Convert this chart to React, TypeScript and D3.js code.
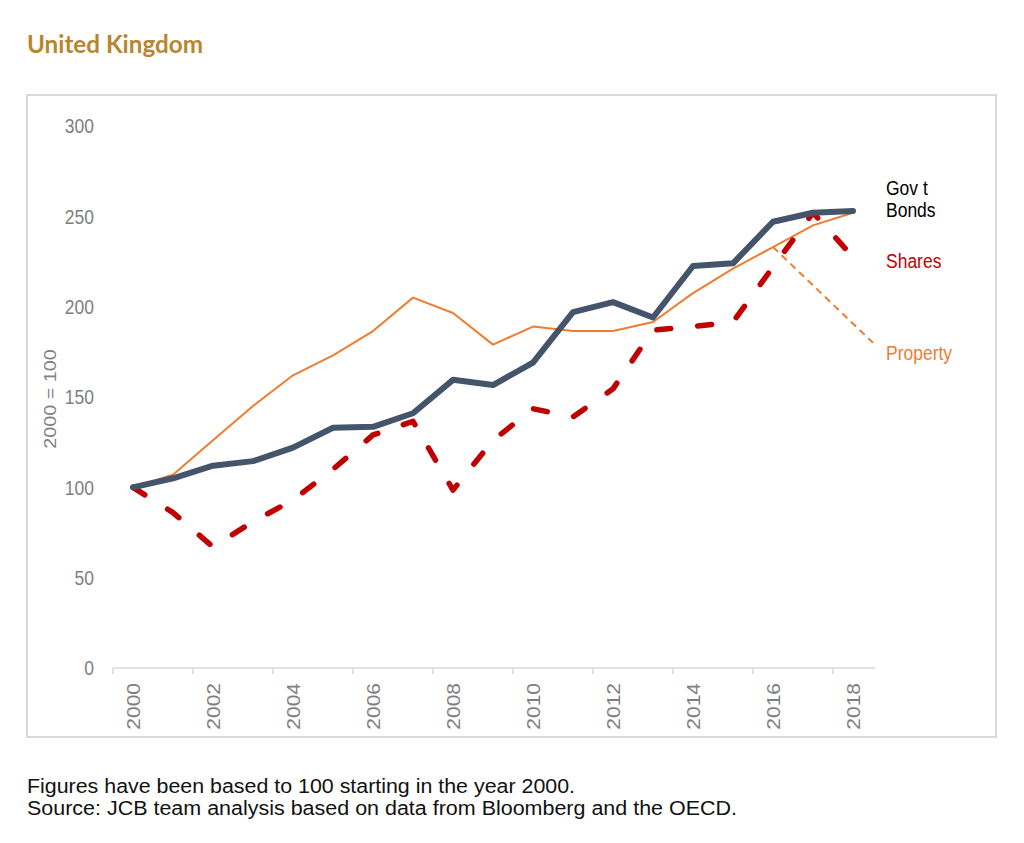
import * as d3 from "d3";

// UK asset classes, indexed to 2000 = 100
const years = d3.range(2000, 2019);
const govtBonds = [100, 105, 112, 114.5, 122, 133, 133.5, 141, 159.5, 156.6, 169, 197, 202.5, 194, 222.5, 224, 247, 252, 253];
const shares = [100, 86, 67, 81, 93, 110, 129, 136.5, 98.5, 126, 143.5, 139, 154.5, 187, 189, 191.5, 222, 252, 227.5];
const property = [100, 107, 126, 145, 162, 173, 186.5, 205, 196.5, 179, 189, 186.5, 186.5, 191.5, 207.5, 221, 233, 245, 252];
// dashed property projection from 2016 to the end of the axis
const propertyProjYears = [2016, 2018.5];
const propertyProj = [233, 180];

const yTicks = [0, 50, 100, 150, 200, 250, 300];
const xLabelYears = [2000, 2002, 2004, 2006, 2008, 2010, 2012, 2014, 2016, 2018];

const W = 1024;
const H = 843;
const FONT = "'Liberation Sans', Arial, sans-serif";
const GREY = "#7f7f7f";
const STRETCH = 1.2;

const x = d3.scaleLinear().domain([1999.5, 2018.5]).range([113, 873]);
const y = d3.scaleLinear().domain([0, 300]).range([668, 126]);

type Pt = [number, number];
const line = d3.line<Pt>().x(d => x(d[0])).y(d => y(d[1]));
const zip = (xs: number[], vs: number[]): Pt[] => xs.map((v, i) => [v, vs[i]]);

function Txt(props: {
  x: number; y: number; rot?: number; anchor?: string; size?: number;
  fill?: string; dy?: string; len?: number; family?: string; weight?: number;
  children: any;
}) {
  const rot = props.rot || 0;
  const sc = rot ? `scale(${STRETCH},1)` : `scale(1,${STRETCH})`;
  return (
    <text
      transform={`translate(${props.x},${props.y}) rotate(${rot}) ${sc}`}
      textAnchor={props.anchor || "start"}
      fontSize={props.size || 17.5}
      fontFamily={props.family || FONT}
      fontWeight={props.weight || 400}
      fill={props.fill || GREY}
      dy={props.dy}
      textLength={props.len}
      lengthAdjust={props.len ? "spacingAndGlyphs" : undefined}
    >
      {props.children}
    </text>
  );
}

export default function App() {
  const xTickPos = d3.range(1999.5, 2018, 2);
  return (
    <svg width={W} height={H} style={{ position: "absolute", left: 0, top: 0, background: "#fff" }}>
      <text x={27} y={53} fontFamily="Lato, 'Open Sans', sans-serif" fontWeight={700} fontSize={24}
        fill="#b8862f" textLength={176} lengthAdjust="spacingAndGlyphs">United Kingdom</text>

      <rect x={27} y={95} width={969} height={642} fill="none" stroke="#d9d9d9" strokeWidth={2} />

      {/* y axis */}
      {yTicks.map(t => (
        <Txt key={t} x={94} y={y(t)} anchor="end" dy="0.35em">{t}</Txt>
      ))}
      <Txt x={50} y={(y(0) + y(300)) / 2 + 2} rot={-90} anchor="middle" dy="0.35em" size={16.5}>2000 = 100</Txt>

      {/* x axis */}
      <line x1={x.range()[0]} x2={x.range()[1] + 2} y1={y(0)} y2={y(0)} stroke="#d9d9d9" strokeWidth={1.5} />
      {xTickPos.map(t => (
        <line key={t} x1={x(t)} x2={x(t)} y1={y(0)} y2={y(0) + 6} stroke="#d9d9d9" strokeWidth={1.5} />
      ))}
      {xLabelYears.map(yr => (
        <Txt key={yr} x={x(yr) + 1} y={683} rot={-90} anchor="end" dy="0.35em">{yr}</Txt>
      ))}

      {/* series */}
      <path d={line(zip(years, property)) || ""} fill="none" stroke="#ed7d31" strokeWidth={2} strokeLinejoin="round" />
      <path d={line(zip(propertyProjYears, propertyProj)) || ""} fill="none" stroke="#ed7d31" strokeWidth={2}
        strokeDasharray="7 5" />
      <path d={line(zip(years, shares)) || ""} fill="none" stroke="#c00000" strokeWidth={5.5}
        strokeDasharray="14 27" strokeLinecap="round" strokeLinejoin="round" />
      <path d={line(zip(years, govtBonds)) || ""} fill="none" stroke="#44546a" strokeWidth={6}
        strokeLinecap="round" strokeLinejoin="round" />

      {/* series labels */}
      <Txt x={886} y={195} fill="#000">Gov t</Txt>
      <Txt x={886} y={217} fill="#000">Bonds</Txt>
      <Txt x={886} y={268} fill="#c00000">Shares</Txt>
      <Txt x={886} y={360} fill="#ed7d31">Property</Txt>

      {/* notes */}
      <Txt x={27} y={793} fill="#111" size={16.5} len={548}>Figures have been based to 100 starting in the year 2000.</Txt>
      <Txt x={27} y={815} fill="#111" size={16.5} len={710}>Source: JCB team analysis based on data from Bloomberg and the OECD.</Txt>
    </svg>
  );
}
